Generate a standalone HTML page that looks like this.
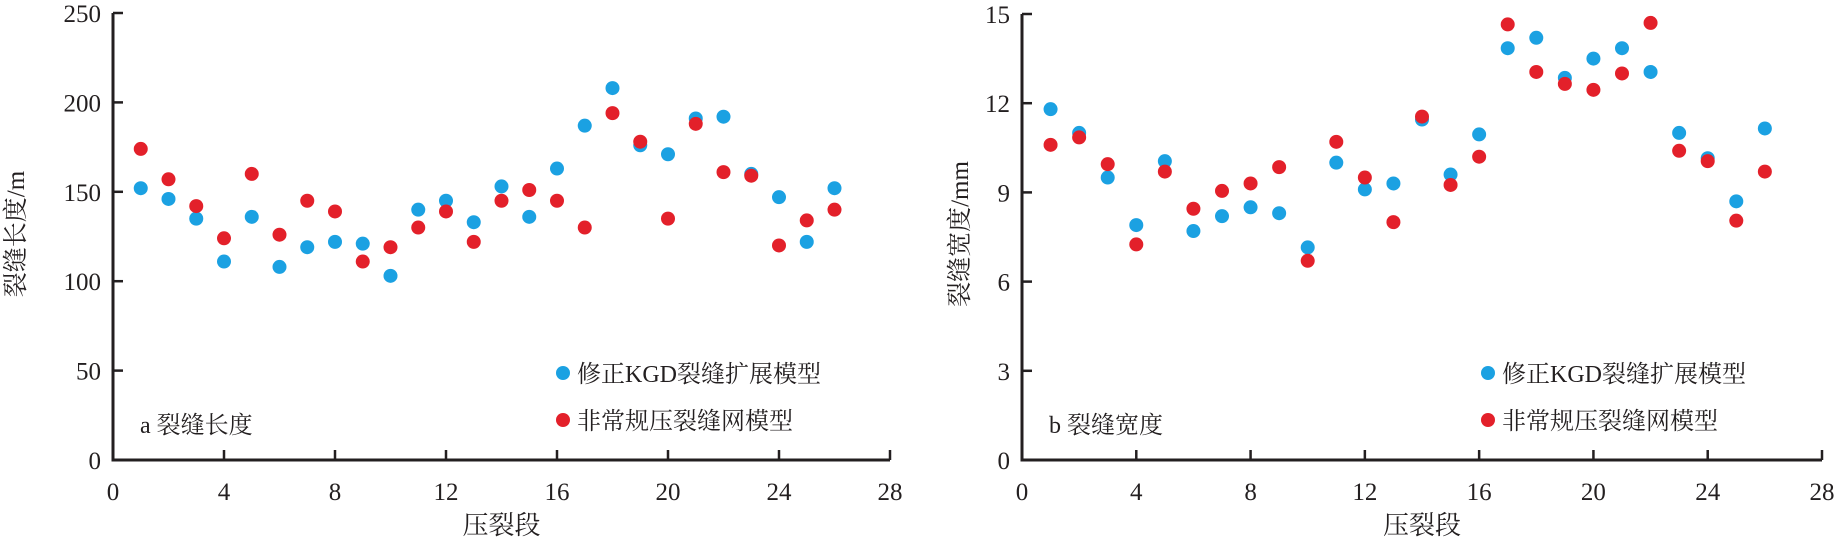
<!DOCTYPE html>
<html><head><meta charset="utf-8">
<style>
html,body{margin:0;padding:0;background:#fff;}
svg text{font-family:"Liberation Serif","Noto Serif CJK SC","Noto Sans CJK SC",serif;fill:#231f20;}
</style></head>
<body>
<svg id="chart" width="1838" height="546" viewBox="0 0 1838 546" xmlns="http://www.w3.org/2000/svg"></svg>
<script>
const stages = [1,2,3,4,5,6,7,8,9,10,11,12,13,14,15,16,17,18,19,20,21,22,23,24,25,26];
const lenKGD = [152,146,135,111,136,108,119,122,121,103,140,145,133,153,136,163,187,208,176,171,191,192,160,147,122,152];
const lenNet = [174,157,142,124,160,126,145,139,111,119,130,139,122,145,151,145,130,194,178,135,188,161,159,120,134,140];
const widKGD = [11.8,11.0,9.5,7.9,10.05,7.7,8.2,8.5,8.3,7.15,10.0,9.1,9.3,11.45,9.6,10.95,13.85,14.2,12.85,13.5,13.85,13.05,11.0,10.15,8.7,11.15];
const widNet = [10.6,10.85,9.95,7.25,9.7,8.45,9.05,9.3,9.85,6.7,10.7,9.5,8.0,11.55,9.25,10.2,14.65,13.05,12.65,12.45,13.0,14.7,10.4,10.05,8.05,9.7];
const xTicks = [0,4,8,12,16,20,24,28];
const lenTicks = [0,50,100,150,200,250];
const widTicks = [0,3,6,9,12,15];

const NS = "http://www.w3.org/2000/svg";
const svg = document.getElementById('chart');
function mk(tag, attrs, parent){
  const e = document.createElementNS(NS, tag);
  for (const k in attrs) e.setAttribute(k, attrs[k]);
  (parent||svg).appendChild(e);
  return e;
}

function panel(p){
  const g = mk('g', {});
  
  
  const x = v => p.x0 + (v - 0) / 28 * (p.x1 - p.x0);
  const y = v => p.y0 - v / p.ymax * (p.y0 - p.y1);
  const axes = mk('path', {d:`M${p.x0},${p.y1} V${p.y0} H${p.x1}`, fill:'none', stroke:'#231f20', 'stroke-width':3}, g);
  
  
  xTicks.forEach(t => {
    const tk = mk('line', {x1:x(t), x2:x(t), y1:p.y0, y2:p.y0-10, stroke:'#231f20','stroke-width':2.5}, g);
    
    
    const lb = mk('text', {x:x(t), y:p.y0+40, 'text-anchor':'middle','font-size':25}, g);
    lb.textContent = t;
    
    
  });
  p.ticks.forEach(t => {
    const tk = mk('line', {x1:p.x0, x2:p.x0+10, y1:y(t), y2:y(t), stroke:'#231f20','stroke-width':2.5}, g);
    
    
    const lb = mk('text', {x:p.x0-12, y:y(t)+9, 'text-anchor':'end','font-size':25}, g);
    lb.textContent = t;
    
    
  });
  const yt = mk('text', {x:0, y:0, 'text-anchor':'middle','font-size':25, transform:`translate(${p.ytx},234) rotate(-90)`}, g);
  yt.textContent = p.ytitle;
  
  
  const xt = mk('text', {x:(p.x0+p.x1)/2, y:534, 'text-anchor':'middle','font-size':26}, g);
  xt.textContent = '压裂段';
  
  
  stages.forEach((s,i) => {
    const c = mk('circle', {cx:x(s), cy:y(p.a[i]), r:7, fill:'#1ba1e2'}, g);
    
    
  });
  stages.forEach((s,i) => {
    const c = mk('circle', {cx:x(s), cy:y(p.b[i]), r:7, fill:'#e3202a'}, g);
    
    
  });
  const l1 = mk('circle', {cx:p.lx, cy:373, r:7, fill:'#1ba1e2'}, g);
  
  
  const t1 = mk('text', {x:p.lx+14, y:382, 'font-size':24}, g);
  t1.textContent = '修正KGD裂缝扩展模型';
  
  
  const l2 = mk('circle', {cx:p.lx, cy:420, r:7, fill:'#e3202a'}, g);
  
  
  const t2 = mk('text', {x:p.lx+14, y:429, 'font-size':24}, g);
  t2.textContent = '非常规压裂缝网模型';
  
  
  const pl = mk('text', {x:p.x0+27, y:433, 'font-size':24}, g);
  pl.textContent = p.label;
  
  
}

panel({name:'length-panel', x0:113, x1:890, y0:460, y1:13, ymax:250, ticks:lenTicks, a:lenKGD, b:lenNet, ytitle:'裂缝长度/m', ytx:24, lx:563, label:'a 裂缝长度'});
panel({name:'width-panel', x0:1022, x1:1822, y0:460, y1:14, ymax:15, ticks:widTicks, a:widKGD, b:widNet, ytitle:'裂缝宽度/mm', ytx:968, lx:1488, label:'b 裂缝宽度'});
</script>
</body></html>
